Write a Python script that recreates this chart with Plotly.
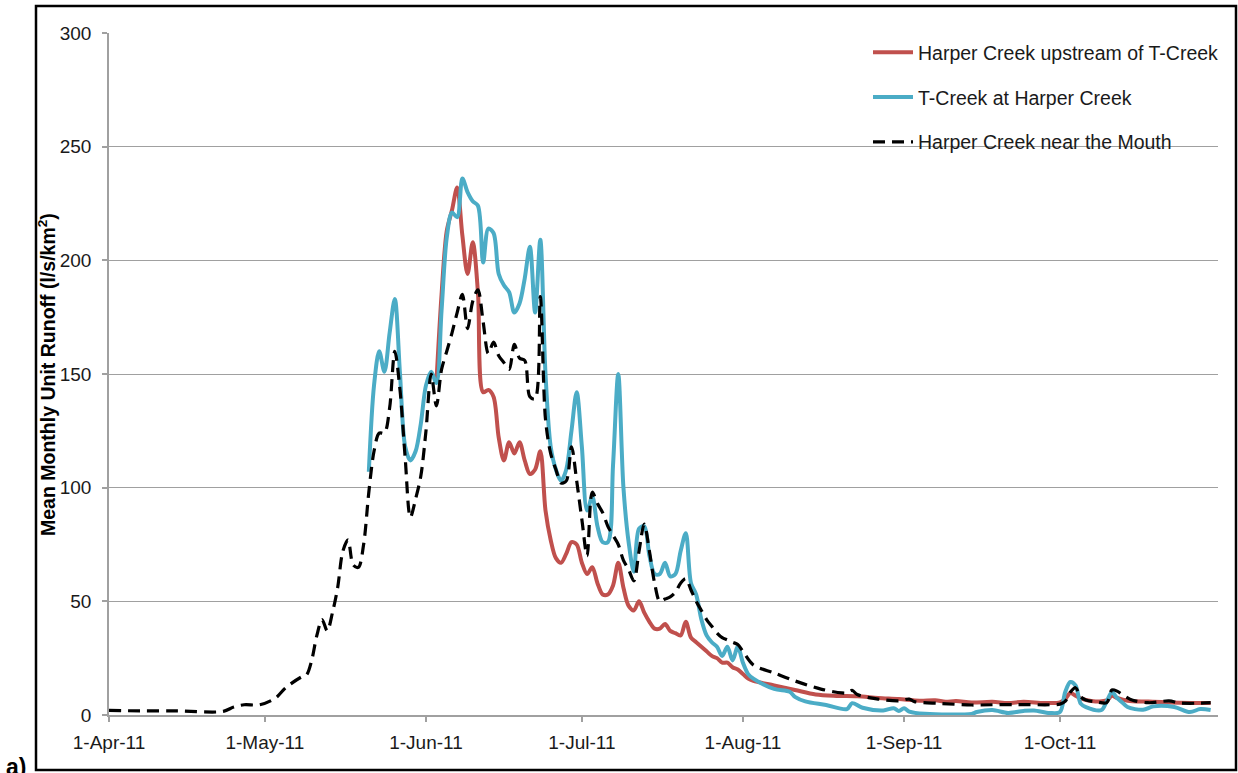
import plotly.graph_objects as go

# ---------------- data ----------------
mouth_dates = [
    "2011-04-01", "2011-04-07", "2011-04-14", "2011-04-23", "2011-04-25", "2011-04-27", "2011-04-30",
    "2011-05-03", "2011-05-05", "2011-05-08", "2011-05-09", "2011-05-10", "2011-05-11", "2011-05-12",
    "2011-05-13", "2011-05-14", "2011-05-15", "2011-05-16", "2011-05-17", "2011-05-18", "2011-05-19",
    "2011-05-20", "2011-05-21", "2011-05-22", "2011-05-23", "2011-05-24", "2011-05-25", "2011-05-26",
    "2011-05-27", "2011-05-28", "2011-05-29", "2011-05-30", "2011-05-31", "2011-06-01", "2011-06-02",
    "2011-06-03", "2011-06-04", "2011-06-05", "2011-06-06", "2011-06-07", "2011-06-08", "2011-06-09",
    "2011-06-10", "2011-06-11", "2011-06-12", "2011-06-13", "2011-06-14", "2011-06-15", "2011-06-16",
    "2011-06-17", "2011-06-18", "2011-06-19", "2011-06-20", "2011-06-21", "2011-06-22", "2011-06-23",
    "2011-06-24", "2011-06-25", "2011-06-26", "2011-06-27", "2011-06-28", "2011-06-29", "2011-06-30",
    "2011-07-01", "2011-07-02", "2011-07-03", "2011-07-04", "2011-07-05", "2011-07-06", "2011-07-07",
    "2011-07-08", "2011-07-09", "2011-07-10", "2011-07-11", "2011-07-12", "2011-07-13", "2011-07-14",
    "2011-07-15", "2011-07-16", "2011-07-17", "2011-07-18", "2011-07-19", "2011-07-20", "2011-07-21",
    "2011-07-22", "2011-07-23", "2011-07-24", "2011-07-25", "2011-07-26", "2011-07-27", "2011-07-28",
    "2011-07-29", "2011-07-30", "2011-07-31", "2011-08-01", "2011-08-03", "2011-08-07", "2011-08-11",
    "2011-08-16", "2011-08-20", "2011-08-21", "2011-08-22", "2011-08-23", "2011-08-27", "2011-08-31",
    "2011-09-02", "2011-09-03", "2011-09-08", "2011-09-14", "2011-09-18", "2011-09-23", "2011-09-29",
    "2011-10-01", "2011-10-02", "2011-10-03", "2011-10-04", "2011-10-05", "2011-10-06", "2011-10-08",
    "2011-10-10", "2011-10-11", "2011-10-12", "2011-10-13", "2011-10-15", "2011-10-18", "2011-10-22",
    "2011-10-24", "2011-10-28", "2011-10-30",
]
mouth_values = [
    2.0, 1.8, 1.8, 1.6, 3.5, 4.5, 4.5,
    7.4, 12, 16.7, 17.6, 24, 35, 42,
    37, 45, 56, 72, 77, 66, 65,
    75, 98, 116, 124, 124, 135, 160,
    143, 113, 87, 95, 105, 125, 150,
    136, 152, 160, 168, 177, 185, 170,
    182, 187, 173, 159, 164, 158, 155,
    152, 163, 157, 156, 140, 139, 184,
    130, 115, 108, 102, 103, 118, 103,
    86, 70, 98, 93, 89, 83, 79,
    75, 68, 64, 59, 72, 84, 72,
    58, 50, 51, 52, 54, 58, 60,
    55, 50, 46, 42, 39, 36, 34,
    33, 32, 31, 28, 22, 18.5, 15,
    11.4, 9.7, 9.7, 10.8, 9, 7, 6.2,
    7, 5.9, 5.1, 4.4, 4.5, 4.6, 4.5,
    4.8, 6, 10, 12, 8, 6.6, 5.8,
    5.4, 11, 10.5, 9, 6.5, 5.4, 6.2,
    5.3, 5.2, 5.4,
]

tcreek_dates = [
    "2011-05-21", "2011-05-22", "2011-05-23", "2011-05-24", "2011-05-25", "2011-05-26", "2011-05-27",
    "2011-05-28", "2011-05-29", "2011-05-30", "2011-05-31", "2011-06-01", "2011-06-02", "2011-06-03",
    "2011-06-04", "2011-06-05", "2011-06-06", "2011-06-07", "2011-06-08", "2011-06-09", "2011-06-10",
    "2011-06-11", "2011-06-12", "2011-06-13", "2011-06-14", "2011-06-15", "2011-06-16", "2011-06-17",
    "2011-06-18", "2011-06-19", "2011-06-20", "2011-06-21", "2011-06-22", "2011-06-23", "2011-06-24",
    "2011-06-25", "2011-06-26", "2011-06-27", "2011-06-28", "2011-06-29", "2011-06-30", "2011-07-01",
    "2011-07-02", "2011-07-03", "2011-07-04", "2011-07-05", "2011-07-06", "2011-07-07", "2011-07-08",
    "2011-07-09", "2011-07-10", "2011-07-11", "2011-07-12", "2011-07-13", "2011-07-14", "2011-07-15",
    "2011-07-16", "2011-07-17", "2011-07-18", "2011-07-19", "2011-07-20", "2011-07-21", "2011-07-22",
    "2011-07-23", "2011-07-24", "2011-07-25", "2011-07-26", "2011-07-27", "2011-07-28", "2011-07-29",
    "2011-07-30", "2011-07-31", "2011-08-01", "2011-08-02", "2011-08-03", "2011-08-07", "2011-08-10",
    "2011-08-11", "2011-08-13", "2011-08-17", "2011-08-21", "2011-08-22", "2011-08-24", "2011-08-28",
    "2011-08-30", "2011-08-31", "2011-09-01", "2011-09-02", "2011-09-05", "2011-09-14", "2011-09-15",
    "2011-09-18", "2011-09-21", "2011-09-24", "2011-09-26", "2011-09-29", "2011-10-01", "2011-10-02",
    "2011-10-03", "2011-10-04", "2011-10-05", "2011-10-06", "2011-10-09", "2011-10-10", "2011-10-11",
    "2011-10-12", "2011-10-13", "2011-10-14", "2011-10-17", "2011-10-19", "2011-10-23", "2011-10-26",
    "2011-10-28", "2011-10-30",
]
tcreek_values = [
    107, 145, 160, 151, 168, 183, 150,
    118, 112, 116, 128, 145, 151, 146,
    178, 210, 221, 219, 236, 230, 226,
    224, 199, 214, 212, 194, 189, 186,
    177, 181, 192, 206, 177, 209, 150,
    118, 108, 103, 108, 125, 142, 118,
    90, 96, 83, 76, 76, 110, 150,
    100, 76, 63, 82, 83, 70, 62,
    62, 67, 61, 62, 72, 80, 58,
    53, 42, 35, 32, 30, 26, 30,
    24, 30, 23, 18, 16, 11.5, 10.2,
    8, 6, 4.4, 2.6, 5.2, 3.2, 2,
    3, 1.8, 3, 1.5, 0.5, 0.5, 1.3,
    2.2, 0.9, 1.8, 2, 0.9, 1.3, 10,
    14.5, 13, 5, 3.5, 2.2, 6, 10,
    7.5, 5.5, 3.5, 2.3, 3.8, 3.5, 1.3,
    2.6, 2.2,
]

upstream_dates = [
    "2011-06-03", "2011-06-04", "2011-06-05", "2011-06-06", "2011-06-07", "2011-06-08", "2011-06-09",
    "2011-06-10", "2011-06-11", "2011-06-12", "2011-06-13", "2011-06-14", "2011-06-15", "2011-06-16",
    "2011-06-17", "2011-06-18", "2011-06-19", "2011-06-20", "2011-06-21", "2011-06-22", "2011-06-23",
    "2011-06-24", "2011-06-25", "2011-06-26", "2011-06-27", "2011-06-28", "2011-06-29", "2011-06-30",
    "2011-07-01", "2011-07-02", "2011-07-03", "2011-07-04", "2011-07-05", "2011-07-06", "2011-07-07",
    "2011-07-08", "2011-07-09", "2011-07-10", "2011-07-11", "2011-07-12", "2011-07-13", "2011-07-14",
    "2011-07-15", "2011-07-16", "2011-07-17", "2011-07-18", "2011-07-19", "2011-07-20", "2011-07-21",
    "2011-07-22", "2011-07-23", "2011-07-24", "2011-07-25", "2011-07-26", "2011-07-27", "2011-07-28",
    "2011-07-29", "2011-07-30", "2011-07-31", "2011-08-01", "2011-08-02", "2011-08-03", "2011-08-07",
    "2011-08-11", "2011-08-15", "2011-08-19", "2011-08-23", "2011-08-27", "2011-08-31", "2011-09-04",
    "2011-09-07", "2011-09-09", "2011-09-11", "2011-09-14", "2011-09-18", "2011-09-21", "2011-09-24",
    "2011-09-28", "2011-10-01", "2011-10-02", "2011-10-03", "2011-10-04", "2011-10-05", "2011-10-07",
    "2011-10-10", "2011-10-11", "2011-10-12", "2011-10-14", "2011-10-18", "2011-10-24", "2011-10-30",
]
upstream_values = [
    146, 185, 213, 222, 232, 211, 194,
    208, 186, 142, 143, 140, 122, 112,
    120, 115, 120, 112, 106, 108, 116,
    90, 77, 69, 67, 71, 76, 75,
    67, 62, 65, 58, 53, 53, 57,
    67, 56, 48, 46, 50, 45, 41,
    38, 38, 40, 37, 36, 35, 41,
    34, 32, 30, 28, 26, 25, 23,
    23, 21, 20, 18, 16, 15, 13,
    11, 9, 8.4, 8.2, 7.5, 7, 6.3,
    6.5, 5.8, 6.2, 5.5, 5.8, 5.3, 5.8,
    5.3, 5.5, 7, 9.7, 8.5, 7.3, 6.2,
    6.4, 8.4, 7.5, 6.3, 5.9, 5.4, 5.3,
]

series_names = [
    "Harper Creek upstream of T-Creek",
    "T-Creek at Harper Creek",
    "Harper Creek near the Mouth",
]
x_tick_dates = ["2011-04-01", "2011-05-01", "2011-06-01", "2011-07-01",
                "2011-08-01", "2011-09-01", "2011-10-01"]
x_tick_labels = ["1-Apr-11", "1-May-11", "1-Jun-11", "1-Jul-11",
                 "1-Aug-11", "1-Sep-11", "1-Oct-11"]
y_tick_values = [0, 50, 100, 150, 200, 250, 300]

# ---------------- figure ----------------
FONT = "Arial, 'Liberation Sans', sans-serif"
RED = "#C0504D"
BLUE = "#4BACC6"
GRID = "#a0a0a0"

fig = go.Figure()
fig.add_trace(go.Scatter(
    x=upstream_dates, y=upstream_values, name=series_names[0], mode="lines",
    line=dict(color=RED, width=4, shape="spline", smoothing=0.9),
    legendgroup="a",
))
fig.add_trace(go.Scatter(
    x=tcreek_dates, y=tcreek_values, name=series_names[1], mode="lines",
    line=dict(color=BLUE, width=4, shape="spline", smoothing=0.9),
    legendgroup="b",
))
fig.add_trace(go.Scatter(
    x=mouth_dates, y=mouth_values, name=series_names[2], mode="lines",
    line=dict(color="black", width=3.2, dash="12px,7px", shape="spline", smoothing=0.9),
    legendgroup="c",
))

W, H = 1238, 773
L, R, T, B = 109, 20, 33, 58
pw, ph = W - L - R, H - T - B


def px_x(x):
    return (x - L) / pw


def px_y(y):
    return (H - B - y) / ph


fig.update_layout(
    width=W, height=H,
    margin=dict(l=L, r=R, t=T, b=B, pad=0),
    paper_bgcolor="white", plot_bgcolor="white",
    font=dict(family=FONT, size=18, color="#1a1a1a"),
    showlegend=True,
    legend=dict(
        x=px_x(868), y=px_y(33), xanchor="left", yanchor="top",
        bgcolor="rgba(255,255,255,0)", borderwidth=0,
        font=dict(family=FONT, size=19.5, color="#1a1a1a"),
        traceorder="grouped", tracegroupgap=16.5, itemwidth=40,
    ),
    xaxis=dict(
        type="date",
        range=["2011-04-01", "2011-10-31 10:00"],
        tickmode="array", tickvals=x_tick_dates, ticktext=x_tick_labels,
        showgrid=False, zeroline=False,
        showline=True, linecolor=GRID, linewidth=1.5,
        ticks="outside", ticklen=5, tickcolor=GRID, tickwidth=1.5,
        tickfont=dict(family=FONT, size=19, color="#1a1a1a"),
        ticklabelstandoff=4,
    ),
    yaxis=dict(
        range=[0, 300], tickmode="array", tickvals=y_tick_values,
        showgrid=True, gridcolor=GRID, gridwidth=1,
        zeroline=False,
        showline=True, linecolor=GRID, linewidth=1.5,
        ticks="outside", ticklen=5, tickcolor=GRID, tickwidth=1.5,
        tickfont=dict(family=FONT, size=19, color="#1a1a1a"),
        ticklabelstandoff=7,
    ),
)

# outer chart frame
fig.add_shape(type="rect", xref="paper", yref="paper",
              x0=px_x(36), x1=px_x(1236), y0=px_y(770), y1=px_y(6),
              line=dict(color="black", width=2.5), fillcolor="rgba(0,0,0,0)",
              layer="above")

# y-axis title
fig.add_annotation(
    xref="paper", yref="paper", x=px_x(47), y=px_y(375),
    text="<b>Mean Monthly Unit Runoff (l/s/km<sup>2</sup>)</b>",
    textangle=-90, showarrow=False, xanchor="center", yanchor="middle",
    font=dict(family=FONT, size=19.5, color="black"),
)

# panel label
fig.add_annotation(
    xref="paper", yref="paper", x=px_x(4), y=px_y(767),
    text="<b>a)</b>", showarrow=False, xanchor="left", yanchor="middle",
    font=dict(family=FONT, size=23, color="black"),
)

fig.write_html(
    "out.html",
    config={"displayModeBar": False},
    post_script="document.body.style.margin='0';document.body.style.overflow='hidden';",
)
